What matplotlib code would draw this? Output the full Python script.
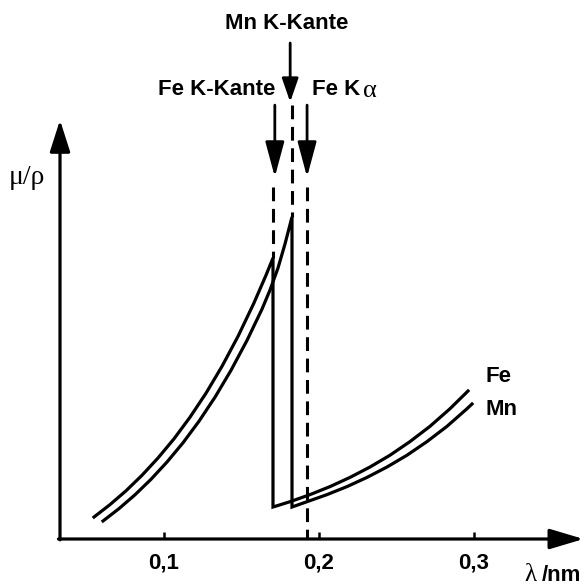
import matplotlib
matplotlib.use('Agg')
import matplotlib.pyplot as plt

# wavelength (nm) and mass absorption coefficient (arbitrary units)
fe_lam = [0.05484, 0.06516, 0.07548, 0.08581, 0.09613, 0.10645, 0.11677, 0.12710,
          0.13742, 0.14774, 0.15806, 0.16581, 0.17032,
          0.17032, 0.18129, 0.19419, 0.20710, 0.22000, 0.23290, 0.24581, 0.25871,
          0.27161, 0.28452, 0.29613]
fe_mu = [0.0531, 0.0831, 0.1164, 0.1539, 0.1957, 0.2420, 0.2942, 0.3522,
         0.4171, 0.4894, 0.5703, 0.6372, 0.6787,
         0.0773, 0.0901, 0.1072, 0.1266, 0.1488, 0.1739, 0.2024, 0.2353,
         0.2722, 0.3147, 0.3575]
mn_lam = [0.06065, 0.07097, 0.08129, 0.09161, 0.10194, 0.11226, 0.12258, 0.13290,
          0.14323, 0.15355, 0.16323, 0.16839, 0.17355, 0.17806, 0.18258,
          0.18258, 0.19226, 0.20516, 0.21806, 0.23097, 0.24387, 0.25677, 0.26968,
          0.28258, 0.29548, 0.29871]
mn_mu = [0.0435, 0.0734, 0.1068, 0.1442, 0.1860, 0.2324, 0.2845, 0.3425,
         0.4075, 0.4797, 0.5553, 0.6014, 0.6546, 0.7126, 0.7778,
         0.0773, 0.0901, 0.1072, 0.1266, 0.1488, 0.1739, 0.2024, 0.2353,
         0.2722, 0.3147, 0.3261]

fe_edge = 0.1703
mn_edge = 0.1826
fe_ka = 0.1923

ticks = [0.1, 0.2, 0.3]
tick_labels = ['0,1', '0,2', '0,3']

sans = ['Liberation Sans Narrow', 'Liberation Sans', 'DejaVu Sans']
serif = ['Liberation Serif', 'DejaVu Serif']

fig = plt.figure(figsize=(5.84, 5.86), dpi=100)
ax = fig.add_axes([0, 0, 1, 1])
ax.set_xlim(-0.00581, 0.37097)
ax.set_ylim(-0.1135, 1.3019)
ax.axis('off')

x0 = 0.0329  # where the mu/rho axis stands
lw = 2.3

# axes with arrow heads
ax.annotate('', xy=(x0, 1.012), xytext=(x0, -0.002),
            arrowprops=dict(arrowstyle='-|>,head_length=0.97,head_width=0.31',
                            mutation_scale=20, lw=lw, color='k', shrinkA=0, shrinkB=0))
ax.annotate('', xy=(0.3707, 0.0), xytext=(x0 - 0.001, 0.0),
            arrowprops=dict(arrowstyle='-|>,head_length=1.04,head_width=0.31',
                            mutation_scale=20, lw=lw, color='k', shrinkA=0, shrinkB=0))
ax.vlines(ticks, 0, 0.016, color='k', lw=1.8)
for t, lab in zip(ticks, tick_labels):
    ax.text(t, -0.058, lab, ha='center', va='center', fontsize=16,
            fontweight='bold', family=sans)

ax.text(0.3362, -0.088, 'λ', ha='center', va='center', fontsize=18, family=serif)
ax.text(0.3436, -0.088, '/nm', ha='left', va='center', fontsize=16,
        fontweight='bold', family=sans)
ax.text(0.0116, 0.874, 'μ/ρ', ha='center', va='center', fontsize=20, family=serif)

# curves
ax.plot(fe_lam, fe_mu, color='k', lw=lw, solid_joinstyle='miter')
ax.plot(mn_lam, mn_mu, color='k', lw=lw, solid_joinstyle='miter')
ax.text(0.3071, 0.392, 'Fe', ha='left', va='center', fontsize=16,
        fontweight='bold', family=sans)
ax.text(0.3071, 0.312, 'Mn', ha='left', va='center', fontsize=16,
        fontweight='bold', family=sans)

# dashed markers
dash = dict(color='k', lw=2.2, ls=(0, (4.5, 2.5)))
ax.plot([fe_edge, fe_edge], [0.850, max(fe_mu)], **dash)
ax.plot([mn_edge, mn_edge], [1.048, max(mn_mu)], **dash)
ax.plot([fe_ka, fe_ka], [0.850, 0.0], **dash)

# arrows
ax.annotate('', xy=(mn_edge - 0.0012, 1.0556), xytext=(mn_edge - 0.0012, 1.198),
            arrowprops=dict(arrowstyle='-|>,head_length=0.72,head_width=0.25',
                            mutation_scale=20, lw=2.0, color='k', shrinkA=0, shrinkB=0))
for xa in [fe_edge + 0.0012, fe_ka]:
    ax.annotate('', xy=(xa, 0.8744), xytext=(xa, 1.048),
                arrowprops=dict(arrowstyle='-|>,head_length=1.08,head_width=0.29',
                                mutation_scale=20, lw=2.0, color='k', shrinkA=0, shrinkB=0))

ax.text(0.1794, 1.244, 'Mn K-Kante', ha='center', va='center', fontsize=16,
        fontweight='bold', family=sans)
ax.text(0.1716, 1.085, 'Fe K-Kante', ha='right', va='center', fontsize=16,
        fontweight='bold', family=sans)
ax.text(0.1955, 1.085, 'Fe K', ha='left', va='center', fontsize=16,
        fontweight='bold', family=sans)
ax.text(0.2330, 1.083, 'α', ha='center', va='center', fontsize=19, family=serif)

fig.savefig('out.png', dpi=100)
